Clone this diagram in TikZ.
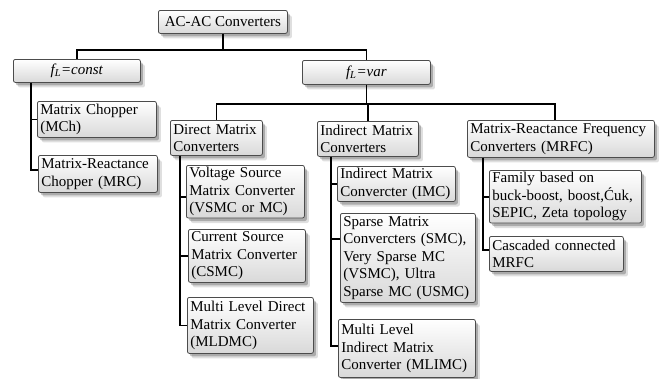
\documentclass[tikz,border=0pt]{standalone}
\usepackage{fontspec}
\setmainfont{Liberation Serif}
\usetikzlibrary{shadows,calc}
\newcommand{\boxfont}{\fontsize{15}{17.5}\selectfont}
\begin{document}
\begin{tikzpicture}[x=1pt,y=-1pt,
  sh/.style={drop shadow={shadow xshift=2.5pt,shadow yshift=-3pt,opacity=.35,fill=black!70},
             drop shadow={shadow xshift=4.5pt,shadow yshift=-5pt,opacity=.18,fill=black!70}},
  box/.style={sh, draw=black!70, line width=0.8pt, rounded corners=2pt, top color=white,
              bottom color=black!15, anchor=north west, inner xsep=3pt, inner ysep=2pt,
              align=left, font=\boxfont},
  cbox/.style={box, align=center},
  conn/.style={draw=black, line width=1.6pt}]
\useasboundingbox (0,0) rectangle (661,378);
% boxes
\node[cbox, minimum width=129pt, minimum height=23pt] (root) at (158,10) {AC-AC Converters};
\node[cbox, minimum width=127pt, minimum height=23pt] (fconst) at (13,59) {\textit{f\textsubscript{L}=const}};
\node[cbox, minimum width=128pt, minimum height=24pt] (fvar) at (302,60) {\textit{f\textsubscript{L}=var}};
\node[box, text width=113pt, minimum height=36pt] (mch) at (37,101) {Matrix Chopper\\(MCh)};
\node[box, text width=113pt, minimum height=37pt] (mrc) at (38,155) {Matrix-Reactance\\Chopper (MRC)};
\node[box, text width=86pt, minimum height=35pt] (dmc) at (170,120) {Direct Matrix\\Converters};
\node[box, text width=95pt, minimum height=35pt] (idmc) at (317,121) {Indirect Matrix\\Converters};
\node[box, text width=181pt, minimum height=37pt] (mrfc) at (467,120) {Matrix-Reactance Frequency\\Converters (MRFC)};
\node[box, text width=112pt, minimum height=52pt] (vsmc) at (186,165) {Voltage Source\\Matrix Converter\\(VSMC or MC)};
\node[box, text width=111pt, minimum height=53pt] (csmc) at (188,229) {Current Source\\Matrix Converter\\(CSMC)};
\node[box, text width=120pt, minimum height=56pt] (mldmc) at (187,297) {Multi Level Direct\\Matrix Converter\\(MLDMC)};
\node[box, text width=112pt, minimum height=34pt] (imc) at (337,166) {Indirect Matrix\\Convercter (IMC)};
\node[box, text width=129pt, minimum height=89pt] (smc) at (340,213) {Sparse Matrix\\Convercters (SMC),\\Very Sparse MC\\(VSMC), Ultra\\Sparse MC (USMC)};
\node[box, text width=131pt, minimum height=58pt] (mlimc) at (338,319) {Multi Level\\Indirect Matrix\\Converter (MLIMC)};
\node[box, text width=146pt, minimum height=52pt] (fam) at (489,170) {Family based on\\buck-boost, boost,Ćuk,\\SEPIC, Zeta topology};
\node[box, text width=128pt, minimum height=35pt] (casc) at (489,236) {Cascaded connected\\MRFC};
% connectors
\draw[conn] (root.south) -- ++(0,16) -| (fconst.north);
\draw[conn] (root.south) -- ++(0,16) -| (fvar.north);
\draw[conn] ($(fconst.south west)+(18,0)$) |- (mch.west);
\draw[conn] ($(fconst.south west)+(18,0)$) |- ($(mrc.north west)+(0,15)$);
\draw[conn] (fvar.south) -- ++(0,19) -| (dmc.north);
\draw[conn] (fvar.south) -- ++(0,19) -| (idmc.north);
\draw[conn] (fvar.south) -- ++(0,19) -| ($(mrfc.north west)+(88,0)$);
\draw[conn] ($(dmc.south west)+(10,0)$) |- ($(vsmc.north west)+(0,32)$);
\draw[conn] ($(dmc.south west)+(10,0)$) |- (csmc.west);
\draw[conn] ($(dmc.south west)+(10,0)$) |- (mldmc.west);
\draw[conn] ($(idmc.south west)+(14,0)$) |- (imc.west);
\draw[conn] ($(idmc.south west)+(14,0)$) |- ($(smc.north west)+(0,26)$);
\draw[conn] ($(idmc.south west)+(14,0)$) |- ($(mlimc.north west)+(0,27)$);
\draw[conn] ($(mrfc.south west)+(16,0)$) |- (fam.west);
\draw[conn] ($(mrfc.south west)+(16,0)$) |- ($(casc.north west)+(0,14)$);
\end{tikzpicture}
\end{document}
